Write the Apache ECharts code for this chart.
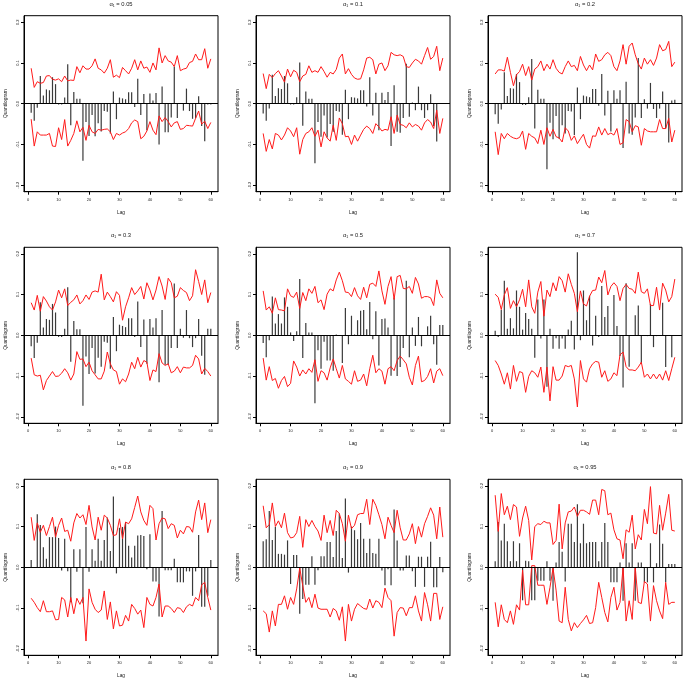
<!DOCTYPE html>
<html><head><meta charset="utf-8">
<script src="https://cdn.jsdelivr.net/npm/echarts@6/dist/echarts.min.js"></script>
<style>html,body{margin:0;padding:0;background:#fff}#c{width:685px;height:681px}</style>
</head><body><div id="c"></div>
<script>
const lags = [1,2,3,4,5,6,7,8,9,10,11,12,13,14,15,16,17,18,19,20,21,22,23,24,25,26,27,28,29,30,31,32,33,34,35,36,37,38,39,40,41,42,43,44,45,46,47,48,49,50,51,52,53,54,55,56,57,58,59,60];
const alphas = ['0.05','0.1','0.2','0.3','0.5','0.7','0.8','0.9','0.95'];
const xTicks = [0,10,20,30,40,50,60];
const yTicks = [-0.2,-0.1,0,0.1,0.2];

const q005 = [-0.022,-0.042,-0.01,0.068,0.02,0.035,0.033,0.065,0.048,-0.002,-0.002,0.015,0.097,-0.053,0.029,0.012,0.012,-0.14,-0.045,-0.079,-0.028,-0.08,-0.048,-0.068,-0.018,-0.02,-0.073,0.03,-0.038,0.015,0.013,0.011,0.028,0.028,-0.008,0.061,-0.028,0.024,-0.065,0.025,0.008,0.026,-0.1,0.042,-0.07,-0.07,-0.034,0.091,-0.035,0.002,-0.017,0.037,-0.018,-0.037,-0.036,0.018,-0.055,-0.092,-0.002,-0.002];
const up005 = [0.087,0.04,0.054,0.05,0.052,0.068,0.069,0.06,0.058,0.061,0.054,0.068,0.056,0.058,0.057,0.091,0.076,0.093,0.085,0.085,0.093,0.11,0.087,0.083,0.075,0.087,0.108,0.065,0.07,0.064,0.089,0.081,0.073,0.087,0.108,0.083,0.105,0.087,0.09,0.077,0.1,0.083,0.137,0.1,0.118,0.105,0.102,0.091,0.118,0.081,0.085,0.087,0.101,0.104,0.122,0.108,0.108,0.135,0.087,0.11];
const lo005 = [-0.038,-0.104,-0.069,-0.077,-0.077,-0.077,-0.073,-0.104,-0.105,-0.059,-0.088,-0.039,-0.104,-0.09,-0.073,-0.042,-0.069,-0.058,-0.09,-0.053,-0.069,-0.073,-0.063,-0.065,-0.063,-0.062,-0.069,-0.088,-0.073,-0.077,-0.072,-0.069,-0.061,-0.047,-0.04,-0.044,-0.086,-0.08,-0.067,-0.044,-0.065,-0.076,-0.03,-0.044,-0.034,-0.044,-0.057,-0.047,-0.044,-0.063,-0.061,-0.053,-0.054,-0.055,-0.036,-0.018,-0.05,-0.043,-0.061,-0.046];

const q01 = [-0.024,-0.042,-0.012,0.071,0.019,0.038,0.036,0.068,0.05,-0.002,-0.002,0.016,0.101,-0.054,0.03,0.012,0.012,-0.146,-0.045,-0.081,-0.029,-0.083,-0.05,-0.069,-0.018,-0.02,-0.076,0.034,-0.038,0.016,0.015,0.013,0.033,0.033,-0.007,0.065,-0.029,0.027,-0.065,0.027,0.009,0.029,-0.104,0.045,-0.069,-0.071,-0.035,0.098,-0.032,0.003,-0.016,0.042,-0.016,-0.035,-0.016,0.023,-0.055,-0.093,0.002,0.002];
const up01 = [0.074,0.037,0.072,0.064,0.074,0.081,0.068,0.053,0.085,0.066,0.082,0.077,0.054,0.068,0.072,0.093,0.077,0.081,0.077,0.091,0.079,0.065,0.077,0.073,0.084,0.112,0.122,0.073,0.086,0.072,0.063,0.06,0.061,0.083,0.112,0.114,0.108,0.073,0.097,0.1,0.081,0.093,0.126,0.12,0.118,0.12,0.116,0.091,0.089,0.1,0.109,0.105,0.097,0.118,0.138,0.109,0.116,0.141,0.081,0.112];
const lo01 = [-0.073,-0.117,-0.088,-0.111,-0.073,-0.077,-0.089,-0.077,-0.059,-0.067,-0.081,-0.059,-0.124,-0.088,-0.073,-0.069,-0.059,-0.08,-0.065,-0.106,-0.069,-0.084,-0.092,-0.053,-0.09,-0.035,-0.049,-0.081,-0.08,-0.1,-0.077,-0.092,-0.077,-0.063,-0.055,-0.061,-0.073,-0.049,-0.057,-0.067,-0.063,-0.065,-0.032,-0.073,-0.028,-0.051,-0.053,-0.059,-0.047,-0.057,-0.051,-0.055,-0.065,-0.047,-0.039,-0.045,-0.061,-0.016,-0.073,-0.036];

const q02 = [-0.026,-0.049,-0.014,0.077,0.019,0.038,0.037,0.073,0.053,-0.003,-0.003,0.016,0.11,-0.061,0.034,0.012,0.012,-0.161,-0.047,-0.087,-0.03,-0.086,-0.053,-0.073,-0.018,-0.019,-0.077,0.04,-0.038,0.02,0.018,0.016,0.036,0.036,-0.005,0.073,-0.029,0.032,-0.068,0.033,0.012,0.033,-0.109,0.054,-0.073,-0.076,-0.034,0.112,-0.035,0.011,-0.012,0.051,-0.013,-0.035,-0.012,0.03,-0.061,-0.095,0.008,0.01];
const up02 = [0.073,0.083,0.083,0.08,0.114,0.077,0.044,0.071,0.079,0.097,0.069,0.091,0.058,0.085,0.091,0.105,0.081,0.097,0.085,0.108,0.087,0.077,0.073,0.091,0.105,0.091,0.094,0.081,0.116,0.095,0.081,0.095,0.083,0.122,0.104,0.108,0.12,0.126,0.118,0.091,0.081,0.105,0.145,0.097,0.141,0.149,0.12,0.098,0.085,0.112,0.097,0.108,0.094,0.112,0.145,0.13,0.133,0.153,0.091,0.102];
const lo02 = [-0.069,-0.125,-0.073,-0.086,-0.073,-0.08,-0.084,-0.086,-0.083,-0.067,-0.112,-0.073,-0.08,-0.084,-0.098,-0.065,-0.1,-0.059,-0.08,-0.063,-0.081,-0.084,-0.094,-0.059,-0.067,-0.09,-0.079,-0.098,-0.086,-0.075,-0.1,-0.109,-0.079,-0.08,-0.057,-0.077,-0.061,-0.076,-0.072,-0.077,-0.061,-0.1,-0.096,-0.039,-0.044,-0.069,-0.054,-0.057,-0.102,-0.061,-0.067,-0.069,-0.069,-0.069,-0.039,-0.061,-0.061,-0.036,-0.094,-0.065];

const q03 = [-0.027,-0.056,-0.018,0.081,0.019,0.04,0.038,0.077,0.056,-0.004,-0.004,0.016,0.118,-0.065,0.035,0.015,0.015,-0.173,-0.052,-0.095,-0.031,-0.094,-0.055,-0.077,-0.016,-0.018,-0.082,0.045,-0.039,0.026,0.023,0.02,0.042,0.042,-0.004,0.083,-0.029,0.039,-0.07,0.04,0.019,0.042,-0.115,0.062,-0.072,-0.073,-0.031,0.127,-0.031,0.016,-0.006,0.062,-0.007,-0.029,-0.007,0.04,-0.05,-0.097,0.016,0.016];
const up03 = [0.08,0.062,0.098,0.059,0.095,0.084,0.07,0.062,0.082,0.111,0.092,0.114,0.073,0.081,0.087,0.099,0.077,0.085,0.099,0.088,0.106,0.109,0.106,0.15,0.087,0.106,0.095,0.082,0.107,0.098,0.037,0.07,0.092,0.117,0.1,0.109,0.12,0.089,0.129,0.111,0.087,0.111,0.144,0.121,0.088,0.14,0.129,0.092,0.096,0.117,0.11,0.105,0.085,0.097,0.161,0.132,0.1,0.136,0.08,0.105];
const lo03 = [-0.056,-0.097,-0.1,-0.098,-0.134,-0.111,-0.1,-0.089,-0.101,-0.1,-0.093,-0.082,-0.092,-0.11,-0.095,-0.04,-0.059,-0.058,-0.077,-0.066,-0.087,-0.097,-0.107,-0.107,-0.088,-0.041,-0.07,-0.085,-0.089,-0.12,-0.107,-0.114,-0.095,-0.066,-0.082,-0.054,-0.078,-0.062,-0.066,-0.111,-0.085,-0.089,-0.045,-0.068,-0.074,-0.07,-0.092,-0.088,-0.077,-0.092,-0.078,-0.08,-0.08,-0.074,-0.049,-0.058,-0.095,-0.081,-0.089,-0.1];

const q05 = [-0.019,-0.054,-0.012,0.095,0.029,0.052,0.029,0.093,0.07,0.007,-0.014,0.01,0.138,-0.056,0.03,0.007,0.007,-0.167,-0.037,-0.082,-0.016,-0.062,-0.062,-0.087,0.002,0,-0.068,0.067,-0.022,0.048,0.002,0.037,0.06,0.062,0.015,0.082,-0.01,0.059,-0.074,0.04,0.041,0.019,-0.099,0.093,-0.1,-0.078,-0.031,0.134,-0.054,0.019,-0.026,0.045,-0.027,-0.001,0.022,0.048,-0.022,-0.072,0.025,0.025];
const up05 = [0.109,0.062,0.07,0.054,0.092,0.063,0.062,0.06,0.114,0.097,0.093,0.106,0.066,0.105,0.085,0.114,0.103,0.12,0.08,0.087,0.063,0.101,0.114,0.109,0.136,0.155,0.134,0.106,0.105,0.095,0.117,0.097,0.088,0.118,0.092,0.125,0.128,0.12,0.158,0.109,0.076,0.12,0.144,0.088,0.144,0.147,0.115,0.114,0.12,0.103,0.142,0.126,0.091,0.095,0.095,0.092,0.073,0.136,0.103,0.092];
const lo05 = [-0.056,-0.11,-0.077,-0.111,-0.106,-0.13,-0.111,-0.101,-0.126,-0.118,-0.063,-0.078,-0.1,-0.085,-0.095,-0.082,-0.091,-0.06,-0.113,-0.087,-0.092,-0.11,-0.08,-0.058,-0.082,-0.105,-0.074,-0.107,-0.113,-0.12,-0.087,-0.113,-0.11,-0.095,-0.124,-0.082,-0.049,-0.092,-0.082,-0.088,-0.12,-0.082,-0.077,-0.087,-0.062,-0.051,-0.06,-0.07,-0.103,-0.122,-0.074,-0.051,-0.114,-0.111,-0.101,-0.082,-0.117,-0.088,-0.082,-0.099];

const q07 = [0.011,-0.004,0.062,0.134,0.016,0.042,0.017,0.11,0.07,0.014,0.055,0.04,0.016,-0.055,0.088,-0.008,0.088,-0.126,0.016,-0.033,-0.007,-0.033,-0.008,-0.033,0.014,0.036,-0.035,0.204,-0.012,0.11,0.037,0.097,-0.025,0.048,-0.004,0.121,0.045,0.072,-0.002,0.099,0.023,-0.051,-0.128,0.128,-0.077,-0.002,0.049,0.073,-0.07,-0.002,-0.002,0.077,-0.029,-0.002,0,0.08,-0.078,0,-0.054,-0.002];
const up07 = [0.101,0.093,0.063,0.099,0.117,0.066,0.085,0.07,0.087,0.113,0.07,0.136,0.07,0.054,0.106,0.132,0.047,0.111,0.095,0.129,0.109,0.144,0.134,0.106,0.151,0.125,0.103,0.058,0.109,0.077,0.072,0.096,0.11,0.111,0.143,0.129,0.159,0.099,0.12,0.129,0.12,0.085,0.115,0.125,0.115,0.113,0.103,0.155,0.107,0.103,0.114,0.073,0.073,0.118,0.062,0.128,0.111,0.082,0.095,0.138];
const lo07 = [-0.062,-0.074,-0.095,-0.12,-0.092,-0.132,-0.074,-0.113,-0.089,-0.092,-0.14,-0.101,-0.087,-0.092,-0.103,-0.078,-0.14,-0.078,-0.161,-0.077,-0.11,-0.11,-0.1,-0.074,-0.077,-0.074,-0.107,-0.176,-0.062,-0.107,-0.115,-0.082,-0.07,-0.064,-0.066,-0.103,-0.087,-0.113,-0.107,-0.092,-0.099,-0.048,-0.041,-0.077,-0.085,-0.085,-0.087,-0.078,-0.066,-0.103,-0.095,-0.107,-0.095,-0.107,-0.095,-0.11,-0.087,-0.111,-0.082,-0.054];

const q08 = [0.018,-0.002,0.13,0.104,0.049,0.021,0.074,0.074,0.1,0.072,-0.008,0.07,-0.01,-0.086,0.044,-0.011,0.044,-0.088,0.099,-0.011,0.044,0.016,0.07,0.016,0.067,0.122,0.04,0.174,-0.015,0.097,0.099,0.111,0.053,0.024,0.053,0.078,0.079,0.077,-0.005,0.081,-0.035,-0.035,-0.121,0.138,-0.007,-0.007,-0.007,0.021,-0.037,-0.037,-0.037,-0.01,-0.01,-0.07,-0.01,0.079,-0.097,-0.097,-0.07,0.018];
const up08 = [0.123,0.066,0.109,0.086,0.103,0.078,0.1,0.123,0.074,0.103,0.121,0.088,0.091,0.064,0.109,0.132,0.121,0.129,0.105,0.152,0.099,0.067,0.123,0.091,0.128,0.121,0.103,0.078,0.08,0.119,0.07,0.111,0.107,0.119,0.147,0.175,0.136,0.115,0.103,0.152,0.144,0.067,0.107,0.121,0.119,0.095,0.107,0.103,0.072,0.091,0.082,0.1,0.099,0.086,0.136,0.165,0.117,0.158,0.085,0.117];
const lo08 = [-0.076,-0.086,-0.099,-0.109,-0.082,-0.109,-0.109,-0.107,-0.129,-0.128,-0.074,-0.08,-0.122,-0.074,-0.114,-0.076,-0.091,-0.074,-0.181,-0.053,-0.086,-0.103,-0.111,-0.105,-0.058,-0.128,-0.085,-0.151,-0.107,-0.144,-0.142,-0.118,-0.132,-0.091,-0.101,-0.115,-0.105,-0.148,-0.074,-0.091,-0.095,-0.074,-0.041,-0.122,-0.095,-0.095,-0.101,-0.111,-0.099,-0.101,-0.111,-0.097,-0.091,-0.095,-0.074,-0.082,-0.043,-0.037,-0.074,-0.105];

const q09 = [0.064,0.069,0.138,0.067,0.099,0.033,0.033,0.031,0.066,-0.041,0.03,0.03,-0.114,-0.078,-0.043,-0.043,0.027,-0.043,-0.007,0.027,0.027,0.062,0.062,0.025,0.089,0.132,0.023,0.169,-0.013,0.1,0.091,0.069,0.109,0.07,0.035,0.07,0.035,0.033,0.07,-0.008,-0.044,-0.005,-0.044,0.142,0.066,-0.008,-0.008,0.029,0.029,-0.01,-0.048,0.026,0.026,-0.048,0.026,0.063,-0.049,-0.049,0.025,-0.012];
const up09 = [0.151,0.097,0.105,0.158,0.1,0.114,0.097,0.133,0.085,0.072,0.074,0.085,0.125,0.049,0.117,0.1,0.115,0.1,0.089,0.066,0.128,0.085,0.115,0.078,0.14,0.132,0.107,0.064,0.128,0.095,0.103,0.129,0.132,0.132,0.167,0.105,0.167,0.152,0.129,0.105,0.07,0.123,0.103,0.085,0.14,0.097,0.067,0.067,0.082,0.107,0.058,0.1,0.074,0.107,0.125,0.146,0.128,0.07,0.148,0.074];
const lo09 = [-0.107,-0.114,-0.159,-0.107,-0.144,-0.091,-0.091,-0.07,-0.103,-0.074,-0.091,-0.053,-0.002,-0.045,-0.086,-0.074,-0.099,-0.066,-0.1,-0.103,-0.103,-0.103,-0.122,-0.101,-0.107,-0.13,-0.097,-0.181,-0.091,-0.132,-0.103,-0.089,-0.095,-0.101,-0.103,-0.078,-0.1,-0.082,-0.086,-0.099,-0.051,-0.074,-0.082,-0.169,-0.111,-0.099,-0.1,-0.119,-0.099,-0.099,-0.07,-0.107,-0.132,-0.062,-0.092,-0.132,-0.064,-0.064,-0.128,-0.097];

const q095 = [0.015,0.111,0.066,0.107,0.064,0.015,0.064,0.015,0.059,-0.081,0.016,0.015,-0.081,-0.081,-0.033,-0.033,-0.033,0.015,-0.033,-0.082,0.012,0.062,0.038,-0.035,0.107,0.107,0.062,0.155,0.059,0.107,0.059,0.062,0.062,0.062,0.015,0.062,0.109,0.062,-0.037,-0.037,-0.037,0.012,-0.082,0.059,0.012,0.059,-0.082,0.012,0.012,-0.037,-0.037,0.059,-0.037,0.01,0.105,0.058,-0.037,0.008,0.008,0.008];
const up095 = [0.177,0.088,0.181,0.129,0.15,0.117,0.154,0.148,0.076,0.121,0.15,0.115,0.018,0.1,0.107,0.105,0.113,0.109,0.109,0.056,0.066,0.155,0.045,0.109,0.136,0.138,0.148,0.125,0.14,0.14,0.136,0.13,0.165,0.165,0.129,0.191,0.188,0.129,0.133,0.092,0.07,0.067,0.021,0.092,0.086,0.128,0.045,0.08,0.067,0.142,0.107,0.198,0.084,0.082,0.152,0.091,0.133,0.179,0.091,0.089];
const lo095 = [-0.086,-0.146,-0.092,-0.128,-0.136,-0.107,-0.14,-0.092,-0.105,-0.007,-0.092,-0.092,0.004,0.004,-0.044,-0.044,-0.044,-0.091,-0.049,-0.002,-0.056,-0.132,-0.136,-0.049,-0.128,-0.156,-0.136,-0.148,-0.138,-0.129,-0.118,-0.138,-0.136,-0.099,-0.037,-0.074,-0.111,-0.134,-0.074,-0.049,-0.105,-0.086,0,-0.132,-0.082,-0.128,0,-0.086,-0.089,-0.035,-0.041,-0.132,-0.045,-0.082,-0.107,-0.126,-0.037,-0.091,-0.086,-0.086];

const quantilograms = [q005,q01,q02,q03,q05,q07,q08,q09,q095];
const uppers = [up005,up01,up02,up03,up05,up07,up08,up09,up095];
const lowers = [lo005,lo01,lo02,lo03,lo05,lo07,lo08,lo09,lo095];

const F = '"Liberation Sans", Arial, Helvetica, sans-serif';
const TXT = '#1a1a1a';
const colX0 = [28, 260, 492];
const rowY0 = [103.7, 335.3, 567.3];
const W = 194, H = 176;
const XMIN = -1.36, XMAX = 62.36, YMIN = -0.216, YMAX = 0.216;

const grids = [], xAxes = [], yAxes = [], series = [], graphics = [];
alphas.forEach((a, i) => {
  const r = Math.floor(i / 3), c = i % 3;
  const left = colX0[c] - 4, top = rowY0[r] - 88;
  grids.push({left: left, top: top, width: W, height: H, show: true, borderColor: '#000', borderWidth: 1, backgroundColor: 'transparent'});
  xAxes.push({
    gridIndex: i, type: 'value', min: XMIN, max: XMAX,
    name: 'Lag', nameLocation: 'middle', nameGap: 18,
    nameTextStyle: {fontSize: 4.8, color: TXT, fontFamily: F},
    axisLine: {show: true, onZero: false, lineStyle: {color: '#000', width: 1}},
    axisTick: {show: true, length: 3, customValues: xTicks, lineStyle: {color: '#000', width: 1}},
    axisLabel: {show: true, fontSize: 4, color: TXT, fontFamily: F, margin: 6, customValues: xTicks, formatter: v => String(v)},
    splitLine: {show: false}
  });
  yAxes.push({
    gridIndex: i, type: 'value', min: YMIN, max: YMAX,
    name: 'Quantilogram', nameLocation: 'middle', nameGap: 16, nameRotate: 90,
    nameTextStyle: {fontSize: 4.8, color: TXT, fontFamily: F},
    axisLine: {show: true, onZero: false, lineStyle: {color: '#000', width: 1}},
    axisTick: {show: true, length: 3, customValues: yTicks, lineStyle: {color: '#000', width: 1}},
    axisLabel: {show: true, rotate: 90, fontSize: 4, color: TXT, fontFamily: F, margin: 4, customValues: yTicks, formatter: v => (Math.abs(v) < 1e-9 ? 0 : v).toFixed(1)},
    splitLine: {show: false}
  });
  graphics.push({type: 'text', x: left + W / 2, y: top - 11.5, silent: true,
    style: {text: 'α\u2081 = ' + a, fill: TXT, font: '5.8px ' + F, textAlign: 'center', textVerticalAlign: 'middle'}});
  series.push({
    type: 'bar', xAxisIndex: i, yAxisIndex: i, barWidth: 1.2, silent: true,
    itemStyle: {color: '#3a3a3a'},
    data: lags.map((l, j) => [l, quantilograms[i][j]]),
    markLine: {silent: true, symbol: ['none', 'none'], label: {show: false}, animation: false,
      lineStyle: {color: '#000', width: 1, type: 'solid'}, data: [{yAxis: 0}]}
  });
  series.push({
    type: 'line', xAxisIndex: i, yAxisIndex: i, showSymbol: false, symbol: 'none', silent: true,
    lineStyle: {color: '#ff1a1a', width: 1}, data: lags.map((l, j) => [l, uppers[i][j]])
  });
  series.push({
    type: 'line', xAxisIndex: i, yAxisIndex: i, showSymbol: false, symbol: 'none', silent: true,
    lineStyle: {color: '#ff1a1a', width: 1}, data: lags.map((l, j) => [l, lowers[i][j]])
  });
});

const chart = echarts.init(document.getElementById('c'), null, {renderer: 'canvas'});
chart.setOption({
  animation: false,
  backgroundColor: '#fff',
  grid: grids, xAxis: xAxes, yAxis: yAxes, series: series, graphic: graphics
});
</script></body></html>
